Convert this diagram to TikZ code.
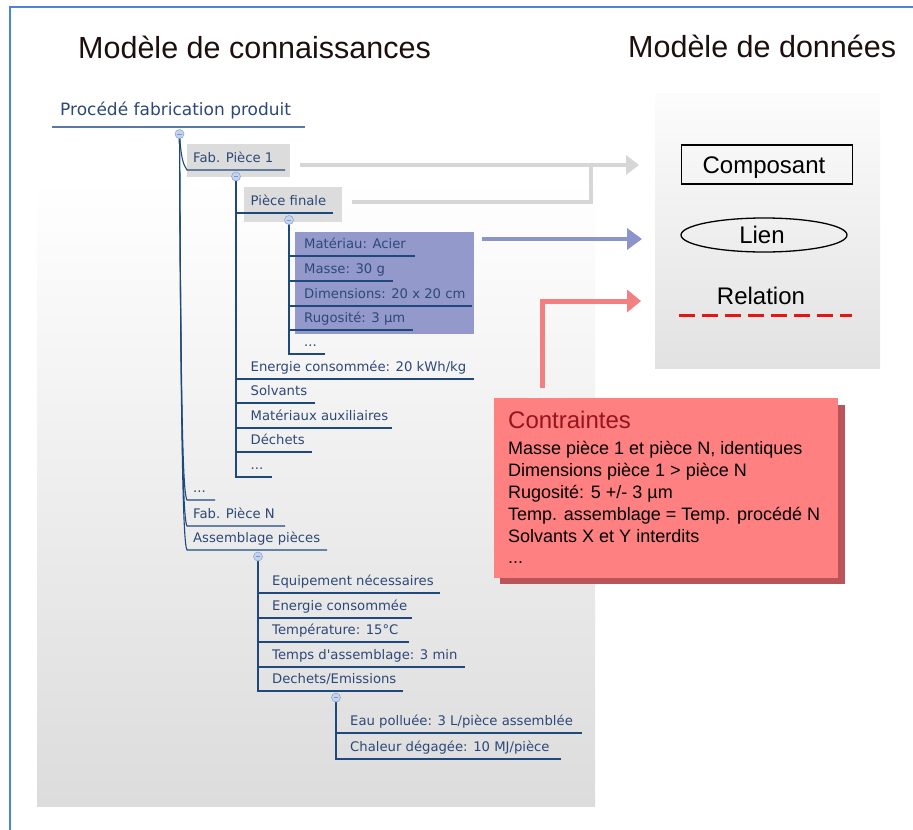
\documentclass[tikz,border=0pt]{standalone}
\usepackage{fontspec}
\setmainfont{Liberation Sans}
\newfontfamily\treefont{DejaVu Sans}
\usetikzlibrary{arrows.meta,shapes.geometric}
\definecolor{frameblue}{RGB}{74,134,212}
\definecolor{treeblue}{RGB}{31,73,125}
\definecolor{treetext}{RGB}{45,72,120}
\definecolor{rootline}{RGB}{90,120,165}
\definecolor{hlgray}{RGB}{220,220,220}
\definecolor{hlpurple}{RGB}{148,153,204}
\definecolor{arrgray}{RGB}{214,214,214}
\definecolor{arrblue}{RGB}{140,148,204}
\definecolor{arrred}{RGB}{242,128,128}
\definecolor{cfill}{RGB}{255,128,128}
\definecolor{cshadow}{RGB}{184,84,90}
\definecolor{ctitle}{RGB}{150,20,30}
\definecolor{relred}{RGB}{230,20,20}
\definecolor{circfill}{RGB}{196,212,238}
\definecolor{circdraw}{RGB}{140,166,212}
\definecolor{circminus}{RGB}{120,150,200}
\definecolor{titletext}{RGB}{30,15,15}
\definecolor{bgbottom}{RGB}{220,220,220}
\definecolor{panelbottom}{RGB}{226,226,226}
\definecolor{paneltop}{RGB}{252,252,252}
\newcommand\titem[6]{% name, parent, text x, underline y, underline end x, text
  \coordinate (#1-r) at (#5,#4);
  \draw[treeline] (#2) |- (#1-r);
  \node[itemtext] (#1) at (#3,#4-7.5) {#6};
}
\newcommand\ritem[5]{% root child: name, underline y, underline end x, text, control length
  \coordinate (#1-l) at (187,#2);
  \coordinate (#1-r) at (#3,#2);
  \draw[treeline] (k0) .. controls +(1.5,#5) and +(-4,-6) .. (#1-l) -- (#1-r);
  \node[itemtext] (#1) at (193,#2-7.5) {#4};
}
\begin{document}
\begin{tikzpicture}[x=1pt,y=-1pt,
  treeline/.style={draw=treeblue, line width=1.1pt},
  itemtext/.style={anchor=base west, inner sep=0pt, text=treetext, font=\treefont\fontsize{13.2}{15}\selectfont},
  circ/.style={circle, draw=circdraw, fill=circfill, minimum size=9pt, inner sep=0pt, line width=0.6pt,
    path picture={\draw[circminus, line width=0.8pt] ([xshift=-2.4pt]path picture bounding box.center) -- ([xshift=2.4pt]path picture bounding box.center);}},
  hlbox/.style={anchor=north west, inner sep=0pt},
  legtext/.style={anchor=base, inner sep=0pt, font=\fontsize{24}{28}\selectfont},
  ctext/.style={anchor=base west, inner sep=0pt, font=\fontsize{18}{22}\selectfont, text=black},
  grayarr/.style={draw=arrgray, line width=4.5pt, -{Triangle[length=13pt,width=19pt]}},
  grayseg/.style={draw=arrgray, line width=4.5pt},
  bluearr/.style={draw=arrblue, line width=4.5pt, -{Triangle[length=15pt,width=21pt]}},
  redarr/.style={draw=arrred, line width=5pt, -{Triangle[length=14pt,width=22pt]}}
]
\useasboundingbox (0,0) rectangle (913,830);
\fill[white] (0,0) rectangle (913,830);
% backgrounds
\shade[top color=white, bottom color=bgbottom] (37,180) rectangle (595,806);
\shade[top color=paneltop, bottom color=panelbottom] (655,93) rectangle (880,368);
% frame
\coordinate (fr1) at (10,830); \coordinate (fr2) at (10,7); \coordinate (fr3) at (913,7);
\draw[frameblue, line width=1.6pt] (fr1) -- (fr2) -- (fr3);
% titles
\node[anchor=base west, inner sep=0pt, text=titletext, font=\fontsize{30.5}{36}\selectfont] (t1) at (78,58) {Modèle de connaissances};
\node[anchor=base west, inner sep=0pt, text=titletext, font=\fontsize{30.5}{36}\selectfont] (t2) at (628,57) {Modèle de données};
% highlight boxes
\node[hlbox, fill=hlgray, minimum width=103pt, minimum height=33pt] (fab1box) at (187,144) {};
\node[hlbox, fill=hlgray, minimum width=98pt, minimum height=35pt] (pfinbox) at (244,187) {};
\node[hlbox, fill=hlpurple, minimum width=179pt, minimum height=102pt] (purbox) at (295,232) {};
% root
\node[anchor=base west, inner sep=0pt, text=treetext, font=\treefont\fontsize{17}{20}\selectfont] (root) at (60,115) {Procédé fabrication produit};
\coordinate (root-l) at (52,127); \coordinate (root-r) at (305,127);
\draw[draw=rootline, line width=1.5pt] (root-l) -- (root-r);
% collapse points
\coordinate (k0) at (179.5,134);
\coordinate (k1) at (236,176.5);
\coordinate (k2) at (289,220);
\coordinate (k3) at (258,556.5);
\coordinate (k4) at (336,697.5);
% root children
\ritem{fab1}{170}{285}{Fab. Pièce 1}{24}
\ritem{dotsA}{500}{215}{...}{290}
\ritem{fabN}{526}{285}{Fab. Pièce N}{300}
\ritem{assem}{550}{327}{Assemblage pièces}{310}
% Fab. Piece 1 children
\titem{pfin}{k1}{250.5}{213}{333}{Pièce finale}
\titem{energ}{k1}{250.5}{379}{474}{Energie consommée: 20 kWh/kg}
\titem{solv}{k1}{250.5}{403}{315}{Solvants}
\titem{mataux}{k1}{250.5}{428}{392}{Matériaux auxiliaires}
\titem{dech}{k1}{250.5}{452}{312}{Déchets}
\titem{dotsB}{k1}{250.5}{477}{272}{...}
% Piece finale children
\titem{mat}{k2}{304}{256}{415}{Matériau: Acier}
\titem{masse}{k2}{304}{281}{393}{Masse: 30 g}
\titem{dim}{k2}{304}{306}{472}{Dimensions: 20 x 20 cm}
\titem{rug}{k2}{304}{330}{413}{Rugosité: 3 µm}
\titem{dotsC}{k2}{304}{354}{325}{...}
% Assemblage children
\titem{equip}{k3}{272}{593}{440}{Equipement nécessaires}
\titem{energB}{k3}{272}{618}{412}{Energie consommée}
\titem{temp}{k3}{272}{642}{409}{Température: 15°C}
\titem{tps}{k3}{272}{667}{465}{Temps d\textquotesingle assemblage: 3 min}
\titem{dechem}{k3}{272}{691}{403}{Dechets/Emissions}
% Dechets children
\titem{eau}{k4}{350}{733}{582}{Eau polluée: 3 L/pièce assemblée}
\titem{chal}{k4}{350}{759}{561}{Chaleur dégagée: 10 MJ/pièce}
% circles
\node[circ] (c0) at (k0) {};
\node[circ] (c1) at (k1) {};
\node[circ] (c2) at (k2) {};
\node[circ] (c3) at (k3) {};
\node[circ] (c4) at (k4) {};
% arrows
\coordinate (ga1s) at (300,165); \coordinate (ga1e) at (639,165);
\coordinate (ga2s) at (352,202); \coordinate (ga2j) at (591,165);
\draw[grayseg] (ga2s) -| (ga2j);
\draw[grayarr] (ga1s) -- (ga1e);
\coordinate (ba-s) at (482,239); \coordinate (ba-e) at (642,239);
\draw[bluearr] (ba-s) -- (ba-e);
\coordinate (ra-s) at (542,388); \coordinate (ra-e) at (641,301);
\draw[redarr] (ra-s) |- (ra-e);
% legend
\node[draw, line width=1.3pt, minimum width=171pt, minimum height=39pt, inner sep=0pt] (comp) at (767,164.5) {};
\node[legtext] (compt) at (764,173) {Composant};
\node[draw, ellipse, line width=1.3pt, minimum width=166pt, minimum height=34pt, inner sep=0pt] (lien) at (764,235) {};
\node[legtext] (lient) at (762,243) {Lien};
\node[legtext] (relt) at (761,304) {Relation};
\coordinate (rl-l) at (679,315); \coordinate (rl-r) at (852,315);
\draw[relred, line width=3pt, dash pattern=on 16pt off 7pt] (rl-l) -- (rl-r);
% contraintes
\node[hlbox, fill=cshadow, minimum width=345pt, minimum height=179pt] (cshad) at (500,405) {};
\node[hlbox, fill=cfill, minimum width=344pt, minimum height=180pt] (cbox) at (494,398) {};
\node[anchor=base west, inner sep=0pt, text=ctitle, font=\fontsize{24}{28}\selectfont] (c-title) at (508,428) {Contraintes};
\node[ctext] (cl1) at (508,454) {Masse pièce 1 et pièce N, identiques};
\node[ctext] (cl2) at (508,476) {Dimensions pièce 1 > pièce N};
\node[ctext] (cl3) at (508,498) {Rugosité: 5 +/- 3 µm};
\node[ctext] (cl4) at (508,520) {Temp. assemblage = Temp. procédé N};
\node[ctext] (cl5) at (508,542) {Solvants X et Y interdits};
\node[ctext] (cl6) at (508,563) {...};
\end{tikzpicture}
\end{document}
